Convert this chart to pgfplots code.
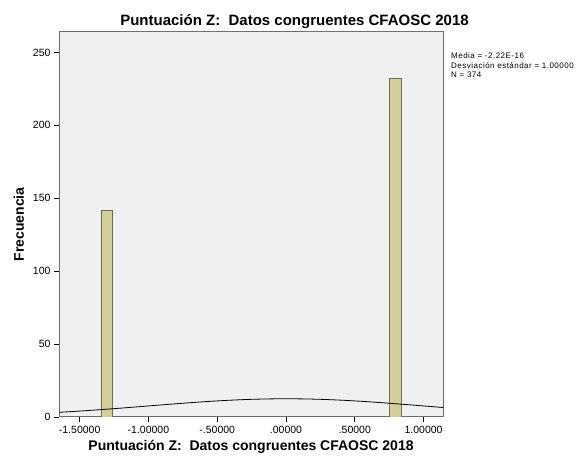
\documentclass[border=0pt]{standalone}
\usepackage{pgfplots}
\pgfplotsset{compat=1.18}
\usepackage{fontspec}
\setmainfont{Liberation Sans}
\usetikzlibrary{calc}
\definecolor{bg}{HTML}{F0F0F0}
\definecolor{barfill}{HTML}{D3CF98}
\definecolor{baredge}{HTML}{6E6E5E}
\definecolor{frame}{HTML}{707070}
\begin{document}
\begin{tikzpicture}
\begin{axis}[name=ax, scale only axis, width=384pt, height=385pt,
  xmin=-1.65, xmax=1.141, ymin=0, ymax=264,
  axis background/.style={fill=bg},
  axis line style={draw=frame, line width=1pt},
  xtick={-1.5,-1,-0.5,0,0.5,1},
  xticklabels={-1.50000,-1.00000,-.50000,.00000,.50000,1.00000},
  ytick={0,50,100,150,200,250},
  yticklabels={0,50,100,150,200,250},
  tick align=outside, major tick length=5pt,
  tick style={black, line width=0.8pt},
  xtick pos=bottom, ytick pos=left,
  ticklabel style={font=\fontsize{10.5}{11}\selectfont},
  xticklabel style={yshift=-1pt},
  clip=true]
\addplot[draw=baredge, fill=barfill, line width=0.8pt] coordinates {(-1.345,0) (-1.345,142) (-1.26,142) (-1.26,0)} \closedcycle;
\addplot[draw=baredge, fill=barfill, line width=0.8pt] coordinates {(0.752,0) (0.752,232) (0.837,232) (0.837,0)} \closedcycle;
\addplot[black, line width=0.8pt, smooth] coordinates {
(-1.65,3.21) (-1.625,3.34) (-1.5,4.06) (-1.375,4.86) (-1.25,5.72) (-1.125,6.64)
(-1.0,7.58) (-0.875,8.52) (-0.75,9.44) (-0.625,10.28) (-0.5,11.03) (-0.375,11.65)
(-0.25,12.12) (-0.125,12.40) (0,12.5) (0.125,12.40) (0.25,12.12) (0.375,11.65)
(0.5,11.03) (0.625,10.28) (0.75,9.44) (0.875,8.52) (1.0,7.58) (1.125,6.64) (1.141,6.52)};
\end{axis}
\node[anchor=base, font=\fontsize{15}{16}\selectfont\bfseries] at ($(ax.north west)+(235.5pt,6pt)$) {Puntuación Z:\ \ Datos congruentes CFAOSC 2018};
\node[anchor=base, font=\fontsize{14}{15}\selectfont\bfseries] at ($(ax.south)+(0pt,-34pt)$) {Puntuación Z:\ \ Datos congruentes CFAOSC 2018};
\node[rotate=90, anchor=base, font=\fontsize{14}{15}\selectfont\bfseries] at ($(ax.west)+(-35pt,0pt)$) {Frecuencia};
\node[anchor=north west, inner sep=0pt, align=left, font=\fontsize{8}{9.3}\selectfont\addfontfeature{LetterSpace=6}] at ($(ax.north east)+(8pt,-21pt)$) {Media = -2.22E-16\\Desviación estándar = 1.00000\\N = 374};
\pgfresetboundingbox
\path[use as bounding box] ($(ax.south west)+(-59pt,-45pt)$) rectangle ($(ax.north east)+(135pt,32pt)$);
\end{tikzpicture}
\end{document}
